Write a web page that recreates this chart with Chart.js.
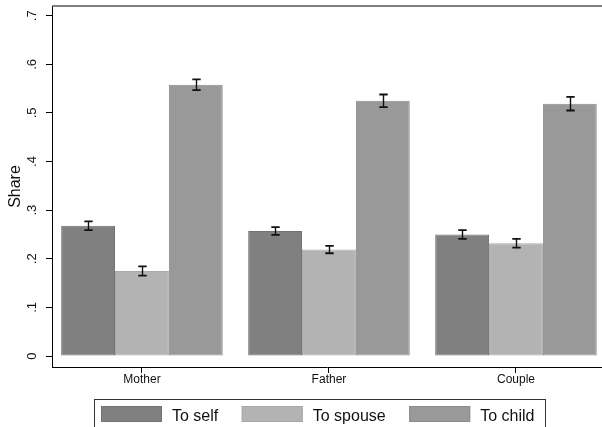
<!DOCTYPE html>
<html>
<head>
<meta charset="utf-8">
<script src="https://cdn.jsdelivr.net/npm/chart.js@4.4.1/dist/chart.umd.min.js"></script>
<style>
  html, body { margin: 0; padding: 0; background: #fff; }
  #wrap { width: 602px; height: 427px; }
</style>
</head>
<body>
<div id="wrap"><canvas id="c" width="602" height="427"></canvas></div>
<script>
// Shares by recipient, with error-bar half widths
const categories = ["Mother", "Father", "Couple"];
const seriesNames = ["To self", "To spouse", "To child"];
const toSelf   = [0.268, 0.257, 0.250];
const toSpouse = [0.175, 0.219, 0.232];
const toChild  = [0.558, 0.525, 0.519];
const errSelf   = [0.0090, 0.0080, 0.0090];
const errSpouse = [0.0095, 0.0076, 0.0090];
const errChild  = [0.0110, 0.0130, 0.0140];
const yTicks      = [0, 0.1, 0.2, 0.3, 0.4, 0.5, 0.6, 0.7];
const yTickLabels = ["0", ".1", ".2", ".3", ".4", ".5", ".6", ".7"];
const yTitle = "Share";

const FONT = "'Liberation Sans', Arial, Helvetica, sans-serif";
const fills   = ["#808080", "#b3b3b3", "#999999"];
const borders = ["#727272", "#a8a8a8", "#8c8c8c"];

const seriesValues = [toSelf, toSpouse, toChild];
const seriesErrors = [errSelf, errSpouse, errChild];

const datasets = seriesNames.map((name, k) => ({
  label: name,
  data: categories.map((c, i) => ({ x: i, y: seriesValues[k][i] })),
  errors: seriesErrors[k],
  backgroundColor: fills[k],
  borderColor: borders[k],
  borderWidth: 1,
  borderSkipped: false,
  categoryPercentage: 0.864,
  barPercentage: 1.0
}));

// Error bars with caps, centred on each bar
const errorBars = {
  id: 'errorBars',
  afterDatasetsDraw(chart) {
    const ctx = chart.ctx, ys = chart.scales.y;
    ctx.save();
    ctx.strokeStyle = '#111';
    chart.data.datasets.forEach((ds, di) => {
      const meta = chart.getDatasetMeta(di);
      meta.data.forEach((bar, i) => {
        const v = ds.data[i].y, e = ds.errors[i];
        const x = Math.round(bar.x) + 0.5;
        const yt = ys.getPixelForValue(v + e);
        const yb = ys.getPixelForValue(v - e);
        ctx.lineWidth = 1.4;
        ctx.beginPath();
        ctx.moveTo(x, yt); ctx.lineTo(x, yb);
        ctx.stroke();
        ctx.lineWidth = 1.8;
        ctx.beginPath();
        ctx.moveTo(x - 4.2, yt); ctx.lineTo(x + 4.2, yt);
        ctx.moveTo(x - 4.2, yb); ctx.lineTo(x + 4.2, yb);
        ctx.stroke();
      });
    });
    ctx.restore();
  }
};

// Rotated y tick labels, axis title, plot-region top edge and the legend
const decorations = {
  id: 'decorations',
  afterDraw(chart) {
    const ctx = chart.ctx, ys = chart.scales.y, area = chart.chartArea;
    ctx.save();

    // top edge of the plot region
    ctx.strokeStyle = '#555';
    ctx.lineWidth = 1.5;
    ctx.beginPath();
    ctx.moveTo(area.left, area.top);
    ctx.lineTo(chart.width, area.top);
    ctx.stroke();

    // y tick labels, reading upwards
    ctx.fillStyle = '#111';
    ctx.font = '13px ' + FONT;
    ctx.textAlign = 'center';
    ctx.textBaseline = 'alphabetic';
    ys.ticks.forEach((t, i) => {
      const py = ys.getPixelForValue(t.value);
      ctx.save();
      ctx.translate(35.7, py);
      ctx.rotate(-Math.PI / 2);
      ctx.fillText(yTickLabels[i], 0, 0);
      ctx.restore();
    });

    // y axis title
    ctx.font = '16px ' + FONT;
    ctx.save();
    ctx.translate(19.5, (area.top + area.bottom) / 2);
    ctx.rotate(-Math.PI / 2);
    ctx.fillText(yTitle, 0, 0);
    ctx.restore();

    // legend box
    ctx.strokeStyle = '#333';
    ctx.lineWidth = 1;
    ctx.strokeRect(94.5, 399.5, 451, 40);
    ctx.font = '16px ' + FONT;
    ctx.textAlign = 'left';
    let x = 101;
    chart.data.datasets.forEach((ds) => {
      ctx.fillStyle = ds.backgroundColor;
      ctx.fillRect(x, 406, 61, 16);
      ctx.strokeStyle = ds.borderColor;
      ctx.strokeRect(x + 0.5, 406.5, 60, 15);
      x += 71;
      ctx.fillStyle = '#111';
      ctx.fillText(ds.label, x, 420.5);
      x += ctx.measureText(ds.label).width + 23.5;
    });
    ctx.restore();
  }
};

new Chart(document.getElementById('c'), {
  type: 'bar',
  data: { datasets },
  options: {
    responsive: false,
    devicePixelRatio: 1,
    animation: false,
    layout: { padding: { top: 6, left: 0, right: 0, bottom: 0 } },
    plugins: { legend: { display: false }, tooltip: { enabled: false } },
    scales: {
      x: {
        type: 'linear',
        offset: false,
        min: -0.481,
        max: 2.460,
        afterBuildTicks(axis) { axis.ticks = categories.map((c, i) => ({ value: i })); },
        afterFit(axis) { axis.height = 60; },
        ticks: {
          callback: (v) => categories[v] ?? '',
          font: { family: FONT, size: 12 },
          color: '#111',
          padding: -1,
          maxRotation: 0,
          autoSkip: false
        },
        grid: { drawOnChartArea: false, drawTicks: true, tickLength: 6, color: '#000', lineWidth: 1, offset: false },
        border: { display: true, color: '#000', width: 1 }
      },
      y: {
        type: 'linear',
        min: -0.0226,
        max: 0.720,
        afterBuildTicks(axis) { axis.ticks = yTicks.map(v => ({ value: v })); },
        afterFit(axis) { axis.width = 52; },
        ticks: { display: false },
        grid: { drawOnChartArea: false, drawTicks: true, tickLength: 6, color: '#000', lineWidth: 1 },
        border: { display: true, color: '#000', width: 1 }
      }
    }
  },
  plugins: [errorBars, decorations]
});
</script>
</body>
</html>
